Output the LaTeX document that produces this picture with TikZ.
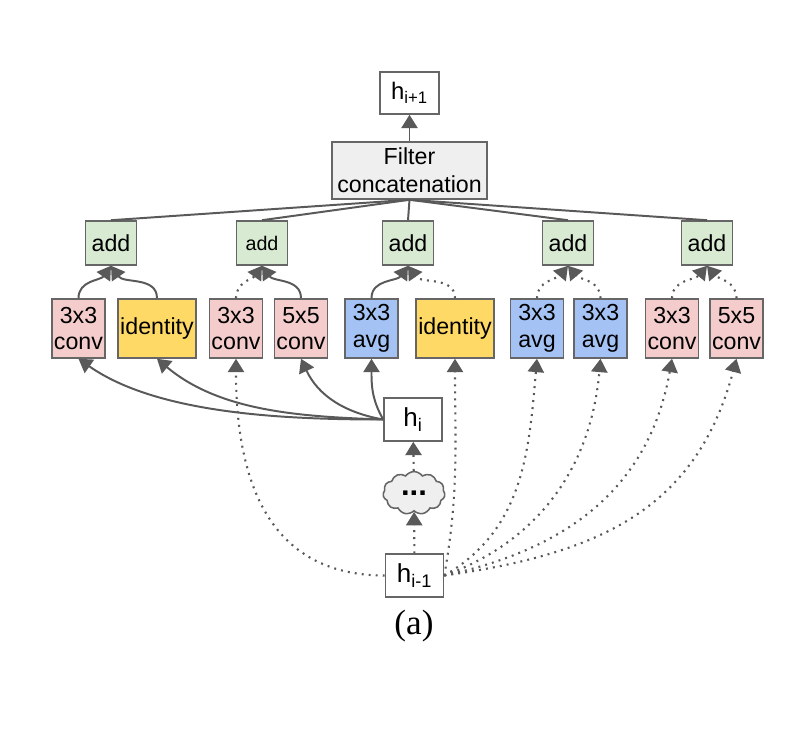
\documentclass[tikz,border=0pt]{standalone}
\usepackage{fontspec}
\setmainfont{Liberation Sans}
\newfontfamily\capfont{Liberation Serif}
\usetikzlibrary{arrows.meta,shapes.symbols}

\definecolor{convpink}{HTML}{F4CCCC}
\definecolor{idyellow}{HTML}{FFD966}
\definecolor{avgblue}{HTML}{A4C2F4}
\definecolor{addgreen}{HTML}{D9EAD3}
\definecolor{concatgray}{HTML}{EFEFEF}
\definecolor{edgegray}{HTML}{595959}
\definecolor{boxgray}{HTML}{666666}

\begin{document}
\begin{tikzpicture}[x=0.025cm,y=-0.025cm]
\tikzset{
  cellbox/.style={draw=boxgray,line width=1.1pt,inner sep=0pt,align=center,font=\fontsize{16.5}{19}\selectfont},
  opbox/.style={cellbox,minimum width=1.325cm,minimum height=1.475cm},
  convop/.style={opbox,fill=convpink},
  avgop/.style={opbox,fill=avgblue},
  identop/.style={opbox,fill=idyellow,minimum width=1.95cm},
  addbox/.style={cellbox,fill=addgreen,minimum width=1.275cm,minimum height=1.1cm,font=\fontsize{16.5}{19}\selectfont},
  statebox/.style={cellbox,fill=white,minimum width=1.45cm,minimum height=1.075cm,font=\fontsize{18.5}{20}\selectfont},
  solidedge/.style={draw=edgegray,line width=1.4pt,-{Triangle[length=9.5pt,width=11.5pt]}},
  dottededge/.style={solidedge,line width=1.5pt,dash pattern=on 1.4pt off 3.6pt},
  joinedge/.style={draw=edgegray,line width=1.4pt}
}
\useasboundingbox (0,0) rectangle (800,734);

% states and concatenation
\node[statebox,minimum width=1.475cm,minimum height=1.05cm,font=\fontsize{17}{20}\selectfont] (n_hnext) at (409.5,93) {h\textsubscript{i+1}};
\node[cellbox,fill=concatgray,minimum width=3.875cm,minimum height=1.425cm,font=\fontsize{16.5}{20}\selectfont] (n_concat) at (409.5,170.5) {Filter\\concatenation};
\node[statebox] (n_hi) at (413,419.5) {h\textsubscript{i}};
\node[cloud,draw=boxgray,fill=concatgray,line width=1.1pt,cloud puffs=11,cloud puff arc=110,aspect=1.45,
      minimum width=1.55cm,minimum height=1.07cm,inner sep=0pt,font=\fontsize{22}{22}\selectfont] (n_cloud) at (414,493) {\textbf{...}};
\node[statebox] (n_hprev) at (414.5,575.5) {h\textsubscript{i-1}};

% add nodes
\node[addbox] (n_add1) at (111,243) {add};
\node[addbox,font=\fontsize{14}{17}\selectfont] (n_add2) at (262,243) {add};
\node[addbox] (n_add3) at (408,243) {add};
\node[addbox] (n_add4) at (568,243) {add};
\node[addbox] (n_add5) at (707,243) {add};

% operations
\node[convop] (n_op1) at (78.5,328.5) {3x3\\conv};
\node[identop] (n_op2) at (157,328.5) {identity};
\node[convop] (n_op3) at (236,328.5) {3x3\\conv};
\node[convop] (n_op4) at (301,328.5) {5x5\\conv};
\node[avgop] (n_op5) at (371.5,328.5) {3x3\\avg};
\node[identop] (n_op6) at (455,328.5) {identity};
\node[avgop] (n_op7) at (537,328.5) {3x3\\avg};
\node[avgop] (n_op8) at (600.5,328.5) {3x3\\avg};
\node[convop] (n_op9) at (672,328.5) {3x3\\conv};
\node[convop] (n_op10) at (736.5,328.5) {5x5\\conv};

\node[font=\capfont\fontsize{25}{28}\selectfont] (n_caption) at (414,626) {(a)};

% concatenation
\foreach \k in {1,...,5}
  \draw[joinedge] (n_concat.south) -- (n_add\k.north);
\draw[solidedge] (n_concat) -- (n_hnext);

% ops into add
\draw[solidedge] (n_op1.north) to[out=90,in=-125] (n_add1.south);
\draw[solidedge] (n_op2.north) to[out=90,in=-55] (n_add1.south);
\draw[dottededge] (n_op3.north) to[out=90,in=-125] (n_add2.south);
\draw[solidedge] (n_op4.north) to[out=90,in=-55] (n_add2.south);
\draw[solidedge] (n_op5.north) to[out=90,in=-125] (n_add3.south);
\draw[dottededge] (n_op6.north) to[out=90,in=-55] (n_add3.south);
\draw[dottededge] (n_op7.north) to[out=90,in=-130] (n_add4.south);
\draw[dottededge] (n_op8.north) to[out=90,in=-50] (n_add4.south);
\draw[dottededge] (n_op9.north) to[out=90,in=-130] (n_add5.south);
\draw[dottededge] (n_op10.north) to[out=90,in=-50] (n_add5.south);

% inputs from h_i
\draw[solidedge] (n_hi.west) to[out=180,in=-35,looseness=0.8] (n_op1.south);
\draw[solidedge] (n_hi.west) to[out=178,in=-40,looseness=0.9] (n_op2.south);
\draw[solidedge] (n_hi.west) to[out=170,in=-65] (n_op4.south);
\draw[solidedge] (n_hi.west) to[out=120,in=-90] (n_op5.south);

% inputs from h_{i-1}
\draw[dottededge] (n_hprev) -- (n_cloud);
\draw[dottededge] (n_cloud) -- (n_hi);
\draw[dottededge] (n_hprev.west) to[out=180,in=-90,looseness=1.15] (n_op3.south);
\draw[dottededge] (n_hprev.east) to[out=80,in=-90] (n_op6.south);
\draw[dottededge] (n_hprev.east) to[out=30,in=-95] (n_op7.south);
\draw[dottededge] (n_hprev.east) to[out=20,in=-95] (n_op8.south);
\draw[dottededge] (n_hprev.east) to[out=12,in=-100,looseness=1.05] (n_op9.south);
\draw[dottededge] (n_hprev.east) to[out=8,in=-105,looseness=1.1] (n_op10.south);
\end{tikzpicture}
\end{document}
